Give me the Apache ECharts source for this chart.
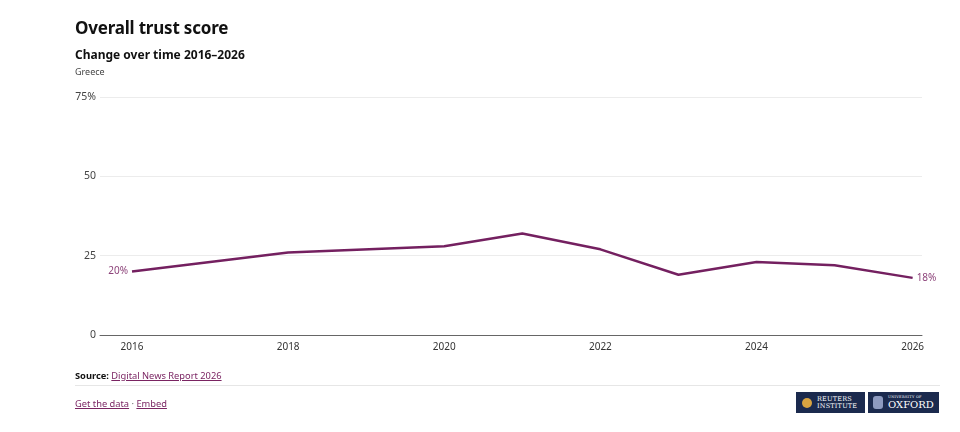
<!DOCTYPE html>
<html>
<head>
<meta charset="utf-8">
<script src="https://cdn.jsdelivr.net/npm/echarts@6/dist/echarts.min.js"></script>
<style>
  html, body { margin: 0; padding: 0; background: #fff; }
  body { width: 960px; height: 432px; position: relative; overflow: hidden; font-family: "Noto Sans", sans-serif; color: #111; }
  #chart { position: absolute; left: 0; top: 0; width: 960px; height: 432px; }
  .abs { position: absolute; white-space: nowrap; }
  .title { left: 75px; top: 16px; font-size: 17px; font-weight: 700; letter-spacing: -0.2px; }
  .subtitle { left: 75px; top: 46px; font-size: 12px; font-weight: 700; }
  .country { left: 75px; top: 65px; font-size: 9px; color: #444; }
  .source { left: 75px; top: 369px; font-size: 9.3px; color: #222; }
  .source b { color: #111; }
  a { color: #7a2462; text-decoration: underline; }
  .rule { left: 75px; top: 385px; width: 865px; height: 1px; background: #e6e6e6; }
  .links { left: 75px; top: 397px; font-size: 9.3px; color: #777; }
  .logo { top: 392px; height: 21px; background: #1b2a4e; color: #fff; font-family: "DejaVu Serif", serif; display: flex; align-items: center; }
  .reuters { left: 796px; width: 69px; }
  .oxford { left: 868px; width: 71px; }
  .badge { width: 10px; height: 10px; border-radius: 50%; background: #d9a441; margin: 0 5px 0 6px; }
  .crest { width: 10px; height: 13px; border-radius: 3px; background: #8d9abf; margin: 0 5px 0 5px; }
  .r1 { font-size: 6.5px; line-height: 7px; letter-spacing: 0.2px; }
  .o1 { font-size: 3.5px; line-height: 5px; letter-spacing: 0.3px; }
  .o2 { font-size: 10px; line-height: 10px; }
</style>
</head>
<body>
<div id="chart"></div>
<div class="abs title">Overall trust score</div>
<div class="abs subtitle">Change over time 2016–2026</div>
<div class="abs country">Greece</div>
<div class="abs source"><b>Source:</b> <a>Digital News Report 2026</a></div>
<div class="abs rule"></div>
<div class="abs links"><a>Get the data</a> · <a>Embed</a></div>
<div class="abs logo reuters"><div class="badge"></div><div class="r1">REUTERS<br>INSTITUTE</div></div>
<div class="abs logo oxford"><div class="crest"></div><div><div class="o1">UNIVERSITY OF</div><div class="o2">OXFORD</div></div></div>
<script>
// data
const years = [2016, 2018, 2020, 2021, 2022, 2023, 2024, 2025, 2026];
const trust = [20, 26, 28, 32, 27, 19, 23, 22, 18];
const yearTicks = [2016, 2018, 2020, 2022, 2024, 2026];
const yTicks = [0, 25, 50, 75];

const lineColor = '#742060';
const labelColor = '#8c4279';

const chart = echarts.init(document.getElementById('chart'));

const seriesData = years.map(function (y, i) {
  const item = { value: [y, trust[i]] };
  if (i === 0) {
    item.label = { show: true, position: 'left', distance: 4, formatter: trust[i] + '%' };
  } else if (i === years.length - 1) {
    item.label = { show: true, position: 'right', distance: 4, formatter: trust[i] + '%' };
  }
  return item;
});

const option = {
  animation: false,
  grid: {
    left: 100,
    right: 38,
    top: 97,
    bottom: 97,
  },
  xAxis: {
    type: 'value',
    min: 2015.59,
    max: 2026.12,
    splitLine: { show: false },
    axisTick: { show: false },
    axisLine: { show: true, lineStyle: { color: '#666', width: 1 } },
    axisLabel: {
      customValues: yearTicks,
      formatter: function (v) { return String(v); },
      color: '#333',
      fontSize: 10,
      fontFamily: 'Noto Sans',
      margin: 7,
    },
  },
  yAxis: {
    type: 'value',
    min: 0,
    max: 75,
    interval: 25,
    axisLine: { show: false },
    axisTick: { show: false },
    splitLine: { show: true, lineStyle: { color: '#ececec', width: 1 } },
    axisLabel: {
      customValues: yTicks,
      formatter: function (v) { return v === 75 ? '75%' : String(v); },
      color: '#444',
      fontSize: 10.5,
      fontFamily: 'Noto Sans',
      margin: 4,
    },
  },
  series: [{
    type: 'line',
    data: seriesData,
    symbol: 'circle',
    symbolSize: 0,
    showSymbol: true,
    lineStyle: { color: lineColor, width: 2.5 },
    itemStyle: { color: lineColor },
    label: {
      show: false,
      color: labelColor,
      fontSize: 10,
      fontFamily: 'Noto Sans',
    },
  }],
};

chart.setOption(option);
</script>
</body>
</html>
